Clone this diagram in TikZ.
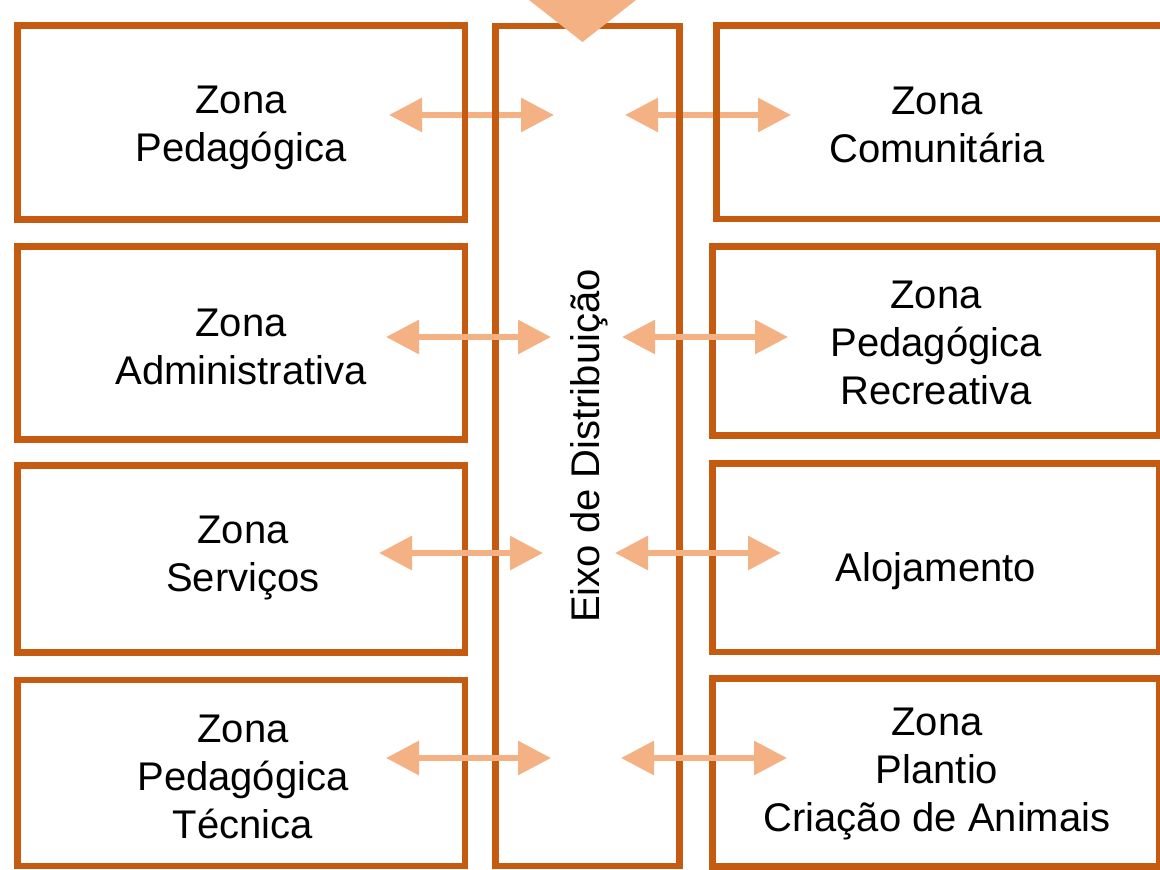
\documentclass[tikz,border=0pt]{standalone}
\usepackage{fontspec}
\setmainfont{Liberation Sans}
\usetikzlibrary{arrows.meta}
\definecolor{edgecol}{HTML}{C55A11}
\definecolor{linkcol}{HTML}{F4B183}
\tikzset{
  zonebox/.style={draw=edgecol, line width=5pt},
  zonetext/.style={align=center, inner sep=0pt, font=\fontsize{30}{36}\selectfont},
  link/.style={draw=linkcol, line width=4.5pt,
    {Triangle[length=24.75pt,width=24.75pt]}-{Triangle[length=24.75pt,width=24.75pt]}},
}
\begin{document}
\begin{tikzpicture}[x=0.75pt,y=-0.75pt]
\useasboundingbox (0,0) rectangle (1160,870);

% link end points, one row per pair of zones
\coordinate (a1) at (389,115);  \coordinate (b1) at (554,115);
\coordinate (c1) at (625,115);  \coordinate (d1) at (791,115);
\coordinate (a2) at (386,337);  \coordinate (b2) at (551,337);
\coordinate (c2) at (622,337);  \coordinate (d2) at (788,337);
\coordinate (a3) at (379,553);  \coordinate (b3) at (543,553);
\coordinate (c3) at (615,553);  \coordinate (d3) at (781,553);
\coordinate (a4) at (386,758);  \coordinate (b4) at (551,758);
\coordinate (c4) at (621,758);  \coordinate (d4) at (787,758);

% first row of links lies under the frames
\draw[link] (a1) -- (b1);
\draw[link] (c1) -- (d1);

% left column
\draw[zonebox] (17.5,25.5) rectangle (465,219.3);
\draw[zonebox] (17.5,246.7) rectangle (465,439.7);
\draw[zonebox] (17.5,465.7) rectangle (465,652.3);
\draw[zonebox] (17.5,680) rectangle (465,866);

% central axis
\draw[zonebox] (495.5,26) rectangle (679.5,866);

% right column
\draw[zonebox] (716.5,25.7) rectangle (1163,219);
\draw[zonebox] (712.7,246.7) rectangle (1159.5,435.7);
\draw[zonebox] (712.3,463.3) rectangle (1159.5,652);
\draw[zonebox] (712.5,678.3) rectangle (1159.5,866.5);

% incoming arrow head at the top of the axis
\fill[linkcol] (529,0) -- (636,0) -- (582.5,42) -- cycle;

% labels
\node[zonetext] (zped) at (241,128) {Zona\\Pedagógica};
\node[zonetext] (zadm) at (241,347) {Zona\\Administrativa};
\node[zonetext] (zser) at (243,558) {Zona\\Serviços};
\node[zonetext] (ztec) at (243,777) {Zona\\Pedagógica\\Técnica};
\node[zonetext] (zcom) at (937,125) {Zona\\Comunitária};
\node[zonetext] (zrec) at (936,343) {Zona\\Pedagógica\\Recreativa};
\node[zonetext] (zalo) at (936,571) {Alojamento};
\node[zonetext] (zpla) at (937,774) {Zona\\Plantio\\Criação de Animais};
\node[zonetext, rotate=90] (eixo) at (589,446) {Eixo de Distribuição};

% remaining links lie over the frames
\draw[link] (a2) -- (b2);
\draw[link] (c2) -- (d2);
\draw[link] (a3) -- (b3);
\draw[link] (c3) -- (d3);
\draw[link] (a4) -- (b4);
\draw[link] (c4) -- (d4);
\end{tikzpicture}
\end{document}
